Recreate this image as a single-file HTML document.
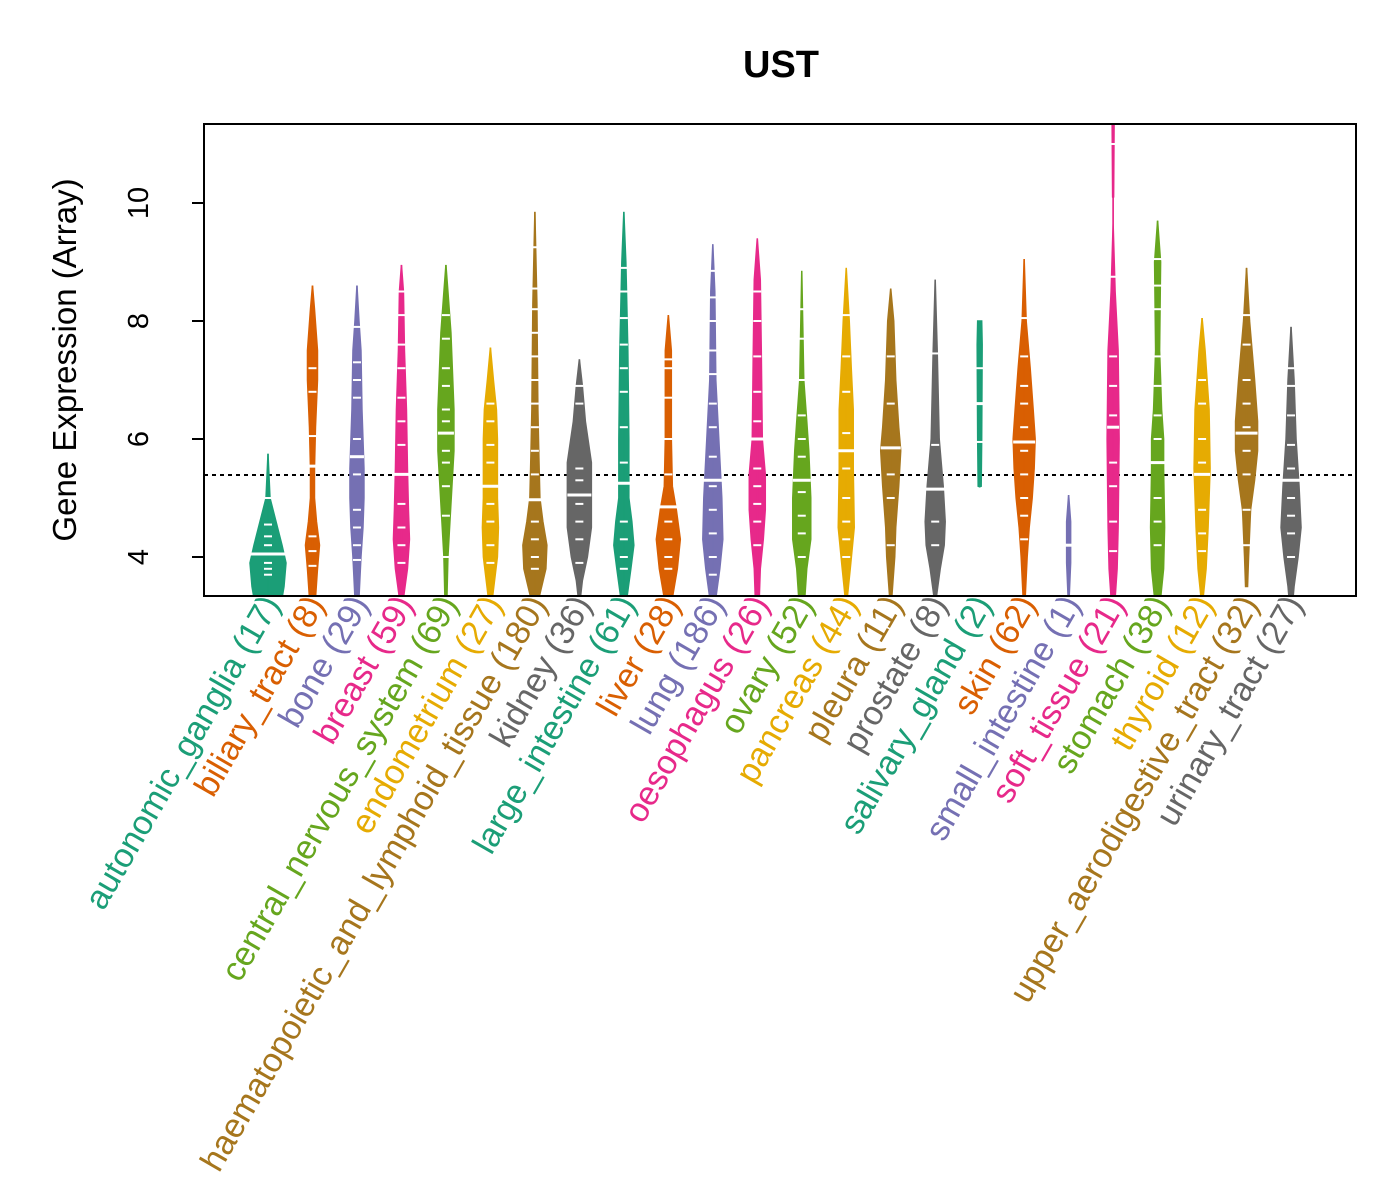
<!DOCTYPE html>
<html><head><meta charset="utf-8"><style>
body{margin:0;background:#fff}
svg{display:block;font-family:"Liberation Sans",sans-serif}
</style></head><body>
<svg id="chart" width="1400" height="1200" viewBox="0 0 1400 1200" xmlns="http://www.w3.org/2000/svg">
<text x="781" y="77" font-size="38" font-weight="bold" text-anchor="middle">UST</text>
<text transform="translate(76,360) rotate(-90)" font-size="33" text-anchor="middle">Gene Expression (Array)</text>
<g id="plot"></g>
<rect x="204" y="124" width="1152" height="472" fill="none" stroke="#000" stroke-width="2"/>
</svg>
<script>
const categories=["autonomic_ganglia","biliary_tract","bone","breast","central_nervous_system","endometrium","haematopoietic_and_lymphoid_tissue","kidney","large_intestine","liver","lung","oesophagus","ovary","pancreas","pleura","prostate","salivary_gland","skin","small_intestine","soft_tissue","stomach","thyroid","upper_aerodigestive_tract","urinary_tract"];
const counts=[17,8,29,59,69,27,180,36,61,28,186,26,52,44,11,8,2,62,1,21,38,12,32,27];
const medians=[4.05,5.54,5.7,5.4,6.1,5.2,4.97,5.05,5.25,4.85,5.3,6.0,5.3,5.8,5.85,5.15,6.6,5.95,4.2,6.2,5.6,5.4,6.1,5.3];
// density profiles: [value, half-width]
const profiles=[
[[5.75,0],[5.0,2],[4.6,8],[4.2,14],[3.9,18],[3.5,16],[3.3,14]],
[[8.6,0],[8.2,2],[7.5,5],[7.0,5],[6.2,3],[5.5,2],[5.0,2],[4.6,4],[4.2,7],[3.8,5],[3.3,3]],
[[8.6,0],[8.0,2],[7.5,4],[6.5,5],[5.5,7],[5.0,7],[4.5,6],[4.0,4],[3.3,2]],
[[8.95,0],[8.5,2],[7.5,3],[6.5,5],[5.5,6],[4.8,7],[4.3,8],[3.8,6],[3.3,2]],
[[8.95,0],[8.5,2],[7.8,5],[6.5,8],[5.8,8],[5.2,6],[4.6,4],[4.0,2],[3.3,1]],
[[7.55,0],[7.0,3],[6.5,6],[6.0,7],[5.0,7],[4.5,8],[4.0,7],[3.3,2]],
[[9.85,0],[8.3,2],[6.5,3],[5.7,4],[5.0,5],[4.6,8],[4.2,12],[3.8,11],[3.3,4]],
[[7.35,0],[6.9,3],[6.3,6],[5.6,12],[5.0,12],[4.5,12],[4.0,8],[3.6,3],[3.3,1]],
[[9.85,0],[9.0,2],[7.5,4],[6.0,5],[5.0,5],[4.6,8],[4.2,10],[3.8,7],[3.3,3]],
[[8.1,0],[7.5,3],[6.0,3],[5.2,4],[4.8,8],[4.3,12],[3.8,9],[3.3,4]],
[[9.3,0],[8.5,2],[7.0,3],[6.0,6],[5.0,9],[4.3,10],[3.8,7],[3.3,3]],
[[9.4,0],[8.7,3],[7.5,4],[6.0,5],[5.4,8],[4.8,8],[4.3,6],[3.8,3],[3.3,2]],
[[8.85,0],[7.0,2],[6.3,5],[5.8,7],[5.0,9],[4.3,9],[3.8,5],[3.3,3]],
[[8.9,0],[8.0,3],[7.2,5],[6.5,7],[5.5,7],[4.5,8],[3.8,4],[3.3,1]],
[[8.55,0],[8.0,3],[7.0,5],[6.2,8],[5.8,10],[5.2,8],[4.5,5],[4.0,4],[3.3,1]],
[[8.7,0],[7.5,2],[6.0,4],[5.2,8],[4.6,10],[4.2,9],[3.8,5],[3.3,1]],
[[8.0,2],[7.6,2.5],[6.0,2],[5.2,1.5],[5.19,0]],
[[9.05,0],[8.0,2],[7.2,6],[6.5,9],[6.0,11],[5.5,10],[5.0,8],[4.5,5],[4.0,3],[3.3,1]],
[[5.05,0],[4.6,2],[3.9,2],[3.3,0.5]],
[[11.4,1],[10.1,0.5],[10.09,0],[9.66,0],[9.65,0],[8.5,2],[7.5,5],[6.0,6],[4.5,5],[3.8,4],[3.3,2]],
[[9.7,0],[9.0,3],[7.5,2],[6.5,4],[6.0,6],[5.5,6],[4.5,7],[3.8,6],[3.3,3]],
[[8.05,0],[7.5,3],[6.5,7],[5.5,8],[4.5,6],[3.8,4],[3.3,1]],
[[8.9,0],[8.0,3],[7.0,8],[6.3,11],[5.8,11],[5.3,8],[4.8,4],[4.0,2],[3.5,1]],
[[7.9,0],[7.0,3],[6.0,5],[5.2,8],[4.5,10],[4.0,7],[3.5,3],[3.3,2]]
];
const samples=[
[5.0,4.55,4.35,4.2,3.9,3.8,3.7],
[7.2,6.8,6.05,4.35,4.1,3.85],
[7.9,7.3,7.0,6.7,6.0,5.4,4.8,4.5,4.2,3.95],
[8.5,8.1,7.6,7.2,6.7,6.3,5.9,4.9,4.5,4.2,3.9],
[8.1,7.7,7.2,6.9,6.5,6.3,5.8,5.6,5.2,4.7,4.0],
[6.6,6.3,5.9,5.6,4.9,4.6,4.2,3.9],
[9.25,8.55,8.2,7.8,7.4,7.0,6.6,6.2,5.8,5.4,4.6,4.3,4.0,3.8],
[6.9,6.6,5.5,5.3,4.9,4.6,4.3,3.9],
[8.9,8.5,8.05,7.6,7.2,6.8,6.2,5.6,4.6,4.3,4.0,3.8],
[7.35,7.2,6.7,6.0,5.4,4.6,4.3,4.0,3.8],
[8.85,8.4,8.0,7.5,7.1,6.6,6.2,5.7,5.2,4.8,4.4,4.0,3.7],
[8.5,8.0,7.4,6.8,6.3,5.5,5.2,4.9,4.6,4.2],
[8.2,7.7,7.0,6.4,6.0,5.7,5.1,4.7,4.4,4.0],
[8.1,7.4,6.8,6.1,5.5,5.0,4.6,4.3,4.0],
[7.4,6.6,5.4,5.0,4.2],
[7.45,5.9,4.6,4.2],
[7.2,5.95],
[8.05,7.4,6.9,6.6,6.2,5.8,5.4,5.0,4.7,4.3],
[4.2],
[11.0,8.75,7.4,6.9,6.4,5.6,5.2,4.6,4.1],
[9.05,8.6,8.2,7.4,6.9,6.4,6.0,5.0,4.6,4.2],
[7.0,6.6,6.0,5.6,4.8,4.4,4.1],
[8.1,7.6,7.0,6.6,6.2,5.8,5.4,4.8,4.2],
[7.2,6.9,6.4,5.9,5.5,5.0,4.7,4.4,4.0]
];
const yTicks=[4,6,8,10];
const refValue=5.39;
const colors=["#1B9E77","#D95F02","#7570B3","#E7298A","#66A61E","#E6AB02","#A6761D","#666666"];
const NS="http://www.w3.org/2000/svg";
const X0=204,X1=1356,Y0=124,Y1=596;
function xPos(i){return 268+i*44.48;}
function yPos(v){return 557-(v-4)*59;}
const svg=document.getElementById('chart');
const g=document.getElementById('plot');
function mk(tag,attrs,parent){const e=document.createElementNS(NS,tag);for(const k in attrs)e.setAttribute(k,attrs[k]);(parent||g).appendChild(e);return e;}
const defs=mk('defs',{},svg);
const cp=mk('clipPath',{id:'clip'},defs);
mk('rect',{x:X0,y:Y0,width:X1-X0,height:Y1-Y0},cp);
g.setAttribute('clip-path','url(#clip)');
yTicks.forEach(t=>{
  const l=mk('line',{x1:X0-12,x2:X0,y1:yPos(t),y2:yPos(t),stroke:'#000','stroke-width':2},svg);
  
  
  const tx=mk('text',{transform:`translate(${X0-56},${yPos(t)}) rotate(-90)`,'font-size':29,'text-anchor':'middle'},svg);
  tx.textContent=t;
  
  
});
const vl=mk('line',{x1:X0,x2:X0,y1:yPos(4),y2:yPos(10),stroke:'#000','stroke-width':2},svg);


const ref=mk('line',{x1:X0,x2:X1,y1:yPos(refValue),y2:yPos(refValue),stroke:'#000','stroke-width':2,'stroke-dasharray':'4 4'});


categories.forEach((c,i)=>{
  const col=colors[i%8],cx=xPos(i),p=profiles[i];
  let pts=p.map(([v,w])=>`${cx+w},${yPos(v)}`);
  let back=p.slice().reverse().map(([v,w])=>`${cx-w},${yPos(v)}`);
  const poly=mk('polygon',{points:pts.concat(back).join(' '),fill:col,stroke:col,'stroke-width':1.5});
  
  
  const top=p[0][0],bot=p[p.length-1][0];
  const ax=mk('line',{x1:cx,x2:cx,y1:yPos(top),y2:yPos(bot),stroke:col,'stroke-width':1.5});
  
  
  samples[i].forEach(s=>{
    const l=mk('line',{x1:cx-4,x2:cx+4,y1:yPos(s),y2:yPos(s),stroke:'#fff','stroke-width':2});
    
    
  });
  let mw=0;p.forEach(([v,w])=>{if(w>mw)mw=w;});
  const m=mk('line',{x1:cx-Math.max(mw,6),x2:cx+Math.max(mw,6),y1:yPos(medians[i]),y2:yPos(medians[i]),stroke:'#fff','stroke-width':3});
  
  
  const t=mk('text',{transform:`translate(${cx+13},${Y1+8}) rotate(-60)`,'font-size':34,'text-anchor':'end',fill:col},svg);
  t.textContent=`${c} (${counts[i]})`;
  
  
});
</script>
</body></html>
